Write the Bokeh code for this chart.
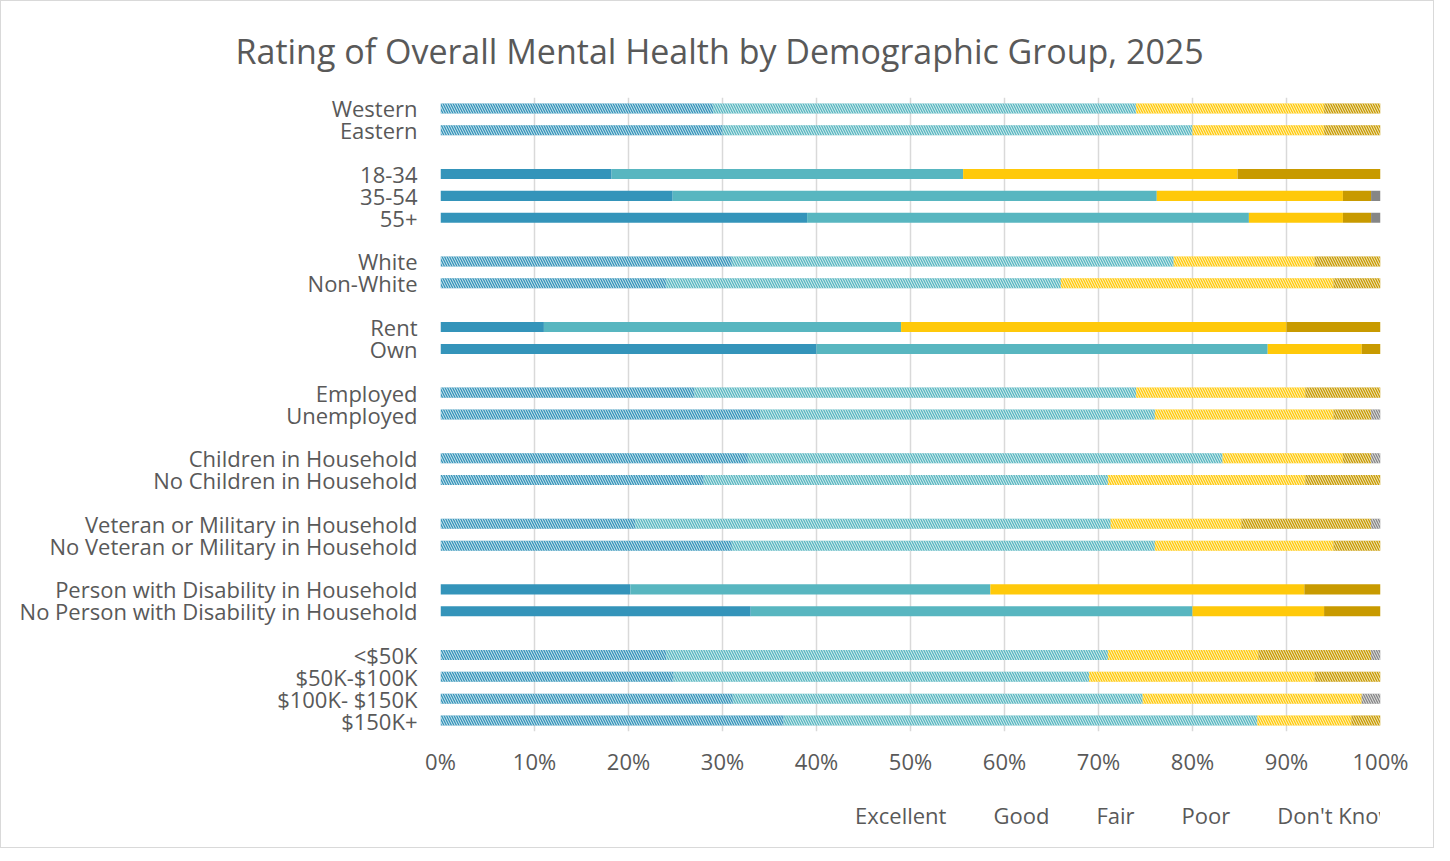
from bokeh.plotting import figure
from bokeh.layouts import column
from bokeh.models import (Range1d, FixedTicker, PrintfTickFormatter, Legend,
                          LegendItem, ColumnDataSource)
from bokeh.core.properties import field
from bokeh.embed import file_html
from bokeh.resources import INLINE
import numpy as np

TITLE = "Rating of Overall Mental Health by Demographic Group, 2025"

series = ["Excellent", "Good", "Fair", "Poor", "Don't Know/Refused"]
colors = ["#3494BA", "#58B6C0", "#FFC90A", "#C89A00", "#868686"]

groups = [
    ["Western", "Eastern"],
    ["18-34", "35-54", "55+"],
    ["White", "Non-White"],
    ["Rent", "Own"],
    ["Employed", "Unemployed"],
    ["Children in Household", "No Children in Household"],
    ["Veteran or Military in Household", "No Veteran or Military in Household"],
    ["Person with Disability in Household", "No Person with Disability in Household"],
    ["<$50K", "$50K-$100K", "$100K- $150K", "$150K+"],
]
# whether the group's bars are drawn with the striped pattern
group_striped = [True, False, True, False, True, True, True, False, True]

excellent = [29, 30, 18.2, 24.7, 39, 31, 24, 11, 40, 27, 34, 32.7, 28, 20.7, 31, 20.2, 33, 24, 24.8, 31.1, 36.5]
good      = [45, 50, 37.4, 51.5, 47, 47, 42, 38, 48, 47, 42, 50.5, 43, 50.6, 45, 38.3, 47, 47, 44.2, 43.6, 50.4]
fair      = [20, 14, 29.2, 19.8, 10, 15, 29, 41, 10, 18, 19, 12.8, 21, 13.9, 19, 33.4, 14, 16, 24, 23.3, 10]
poor      = [6, 6, 15.2, 3, 3, 7, 5, 10, 2, 8, 4, 3, 8, 13.8, 5, 8.1, 6, 12, 7, 0, 3.1]
dk        = [0, 0, 0, 1, 1, 0, 0, 0, 0, 0, 1, 1, 0, 1, 0, 0, 0, 1, 0, 2, 0]

# slot positions (one empty slot between groups)
labels, ypos, hatch = [], [], []
slot = 0
for gi, g in enumerate(groups):
    for name in g:
        labels.append(name)
        ypos.append(slot)
        hatch.append("left_diagonal_line" if group_striped[gi] else "blank")
        slot += 1
    slot += 1
nslots = slot - 1

vals = np.array([excellent, good, fair, poor, dk], dtype=float)
rights = np.cumsum(vals, axis=0)
lefts = rights - vals

FRAME_W, FRAME_H = 940, 634
ML, MR, MT, MB = 439, 53, 96, 60
TOTAL_W = ML + FRAME_W + MR

HATCH = dict(hatch_color="white", hatch_scale=5, hatch_weight=1.0, hatch_alpha=0.8)

p = figure(output_backend="svg", toolbar_location=None,
           frame_width=FRAME_W, frame_height=FRAME_H,
           min_border_left=ML, min_border_right=MR,
           min_border_top=MT, min_border_bottom=MB,
           x_range=Range1d(0, 100), y_range=Range1d(nslots - 0.5, -0.5),
           background_fill_color="white", border_fill_color="white")
p.outline_line_color = None

for i, s in enumerate(series):
    src = ColumnDataSource(dict(y=ypos, left=lefts[i], right=rights[i], hatch=hatch))
    p.hbar(y="y", left="left", right="right", height=0.46, source=src,
           fill_color=colors[i], line_color=None,
           hatch_pattern=field("hatch"), **HATCH)

# title (starts where the reference title starts, centred over the whole chart)
p.title.text = TITLE
p.title.align = "left"
p.title.offset = -205
p.title.vertical_align = "bottom"
p.title.standoff = 47
p.title.text_font = "Open Sans"
p.title.text_font_size = "34px"
p.title.text_font_style = "normal"
p.title.text_color = "#595959"

# axes
p.xaxis.ticker = FixedTicker(ticks=list(range(0, 101, 10)))
p.xaxis.formatter = PrintfTickFormatter(format="%d%%")
p.xaxis.axis_line_color = None
p.xaxis.major_tick_line_color = None
p.xaxis.minor_tick_line_color = None
p.xaxis.major_label_text_font = "Open Sans"
p.xaxis.major_label_text_font_size = "22px"
p.xaxis.major_label_text_color = "#595959"
p.xaxis.major_label_standoff = 8

p.yaxis.ticker = FixedTicker(ticks=ypos)
p.yaxis.major_label_overrides = {y: lab for y, lab in zip(ypos, labels)}
p.yaxis.axis_line_color = None
p.yaxis.major_tick_line_color = None
p.yaxis.minor_tick_line_color = None
p.yaxis.major_label_text_font = "Open Sans"
p.yaxis.major_label_text_font_size = "22px"
p.yaxis.major_label_text_color = "#595959"
p.yaxis.major_label_standoff = 17

p.xgrid.grid_line_color = "#D9D9D9"
p.xgrid.grid_line_width = 1.5
p.ygrid.grid_line_color = None

# legend strip underneath the chart
LEG_H = 56
leg = figure(output_backend="svg", toolbar_location=None,
             width=TOTAL_W, height=LEG_H,
             x_range=Range1d(0, 1), y_range=Range1d(0, 1),
             x_axis_location=None, y_axis_location=None, min_border=0,
             background_fill_color="white", border_fill_color="white")
leg.outline_line_color = None
leg.grid.grid_line_color = None

leg_renderers = []
for i, s in enumerate(series):
    r = leg.hbar(y=[], left=[], right=[], height=0.5,
                 fill_color=colors[i], line_color=None,
                 hatch_pattern="left_diagonal_line", **HATCH)
    leg_renderers.append(r)

legend = Legend(items=[LegendItem(label=s, renderers=[r]) for s, r in zip(series, leg_renderers)],
                orientation="horizontal", location=(396, 17),
                glyph_width=14, glyph_height=14, label_standoff=5, spacing=28,
                padding=0, margin=0, border_line_color=None,
                background_fill_alpha=0,
                label_text_font="Open Sans", label_text_font_size="22px",
                label_text_color="#595959")
leg.add_layout(legend, "center")

layout = column(p, leg, spacing=0, styles={"border": "1px solid #D9D9D9"})

open("out.html", "w").write(file_html(layout, INLINE))
